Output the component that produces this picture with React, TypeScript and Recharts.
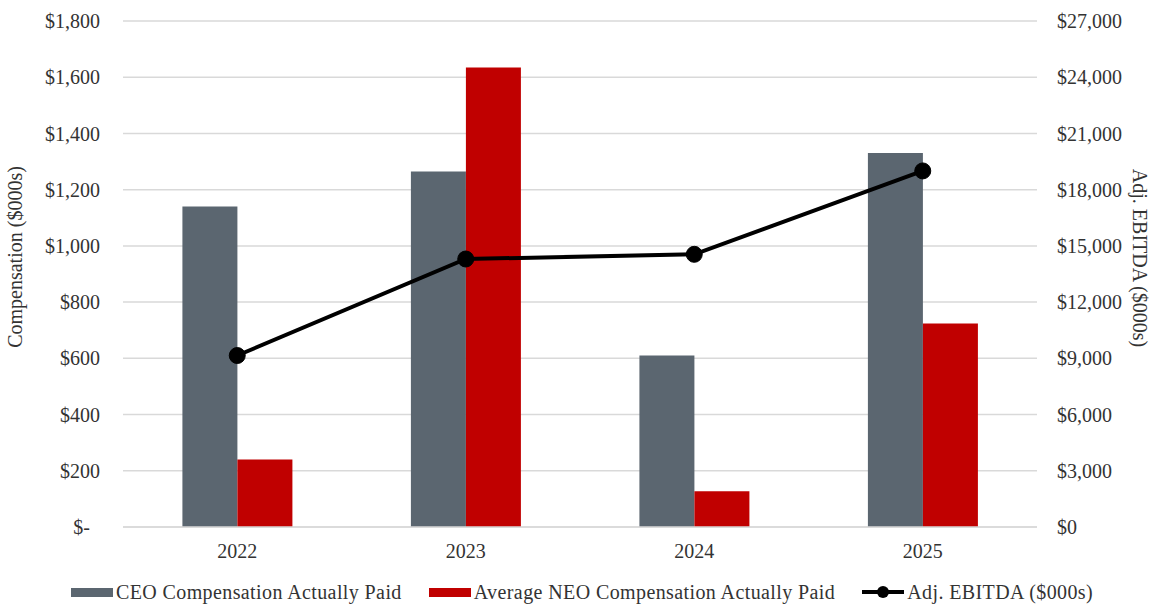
import { ComposedChart, Bar, Line, XAxis, YAxis, CartesianGrid, Legend } from 'recharts'

const years = ['2022', '2023', '2024', '2025']
const ceoPaid = [1140, 1265, 610, 1330]
const neoPaid = [240, 1635, 127, 724]
const adjEbitda = [9150, 14300, 14550, 19000]
const compTicks = [0, 200, 400, 600, 800, 1000, 1200, 1400, 1600, 1800]
const ebitdaTicks = [0, 3000, 6000, 9000, 12000, 15000, 18000, 21000, 24000, 27000]
const seriesOrder = ['ceo', 'neo', 'ebitda']

const data = years.map((year, i) => ({
  year,
  ceo: ceoPaid[i],
  neo: neoPaid[i],
  ebitda: adjEbitda[i],
}))

const FONT = 'Liberation Serif, serif'
const TEXT = '#333333'
const GRID = '#d9d9d9'

const fmtComp = (v: number) => (v === 0 ? '$-\u00A0\u00A0' : '$' + v.toLocaleString('en-US'))
const fmtEbitda = (v: number) => '$' + v.toLocaleString('en-US')

function ChartLegend({ payload }: any) {
  const items = [...(payload || [])].sort(
    (a: any, b: any) => seriesOrder.indexOf(a.dataKey) - seriesOrder.indexOf(b.dataKey)
  )
  return (
    <div style={{ display: 'flex', justifyContent: 'center', alignItems: 'center', gap: 27, height: 30, fontFamily: FONT, fontSize: 20, letterSpacing: 0.4, color: TEXT, paddingLeft: 4 }}>
      {items.map((entry: any) => (
        <div key={entry.value} style={{ display: 'flex', alignItems: 'center', gap: 3 }}>
          {entry.type === 'line' ? (
            <svg width={42} height={20}>
              <line x1={0} y1={10} x2={42} y2={10} stroke={entry.color} strokeWidth={4} />
              <circle cx={21} cy={10} r={6} fill={entry.color} />
            </svg>
          ) : (
            <span style={{ width: 42, height: 9, backgroundColor: entry.color, display: 'inline-block' }} />
          )}
          <span>{entry.value}</span>
        </div>
      ))}
    </div>
  )
}

export default function App() {
  return (
    <div style={{ width: 1160, height: 610, background: '#fff', fontFamily: FONT }}>
      <style>{'body{margin:0}'}</style>
      <ComposedChart width={1160} height={610} data={data} margin={{ top: 21, right: 0, left: 0, bottom: 3 }} barCategoryGap="26%" barGap={0} style={{ fontFamily: FONT }}>
        <CartesianGrid yAxisId="left" vertical={false} stroke={GRID} strokeWidth={1.5} />
        <XAxis
          dataKey="year"
          height={50}
          tickLine={false}
          tickSize={0}
          tickMargin={17}
          axisLine={{ stroke: GRID, strokeWidth: 1.5 }}
          tick={{ fill: TEXT, fontSize: 20, fontFamily: FONT }}
        />
        <YAxis
          yAxisId="left"
          width={123}
          domain={[0, 1800]}
          ticks={compTicks}
          tickFormatter={fmtComp}
          axisLine={false}
          tickLine={false}
          tickSize={0}
          tickMargin={23}
          tick={{ fill: TEXT, fontSize: 20, fontFamily: FONT }}
          label={(props: any) => {
            const vb = props.viewBox
            return (
              <text
                transform={`translate(${vb.x + 15}, ${vb.y + vb.height / 2 - 17}) rotate(-90)`}
                textAnchor="middle"
                dominantBaseline="central"
                fill={TEXT}
                fontSize={20}
                fontFamily={FONT}
              >
                Compensation ($000s)
              </text>
            )
          }}
        />
        <YAxis
          yAxisId="right"
          orientation="right"
          width={123}
          domain={[0, 27000]}
          ticks={ebitdaTicks}
          tickFormatter={fmtEbitda}
          axisLine={false}
          tickLine={false}
          tickSize={0}
          tickMargin={20}
          tick={{ fill: TEXT, fontSize: 20, fontFamily: FONT, textAnchor: 'start' }}
          label={(props: any) => {
            const vb = props.viewBox
            return (
              <text
                transform={`translate(${vb.x + 103}, ${vb.y + vb.height / 2 - 16}) rotate(90)`}
                textAnchor="middle"
                dominantBaseline="central"
                fill={TEXT}
                fontSize={20}
                fontFamily={FONT}
              >
                Adj. EBITDA ($000s)
              </text>
            )
          }}
        />
        <Legend verticalAlign="bottom" content={(props: any) => <ChartLegend {...props} />} />
        <Bar yAxisId="left" dataKey="ceo" name="CEO Compensation Actually Paid" fill="#5b6670" isAnimationActive={false} />
        <Bar yAxisId="left" dataKey="neo" name="Average NEO Compensation Actually Paid" fill="#c00000" isAnimationActive={false} />
        <Line
          yAxisId="right"
          dataKey="ebitda"
          name="Adj. EBITDA ($000s)"
          stroke="#000000"
          strokeWidth={4}
          dot={{ r: 8, fill: '#000000', stroke: '#000000', strokeWidth: 1 }}
          isAnimationActive={false}
        />
      </ComposedChart>
    </div>
  )
}
